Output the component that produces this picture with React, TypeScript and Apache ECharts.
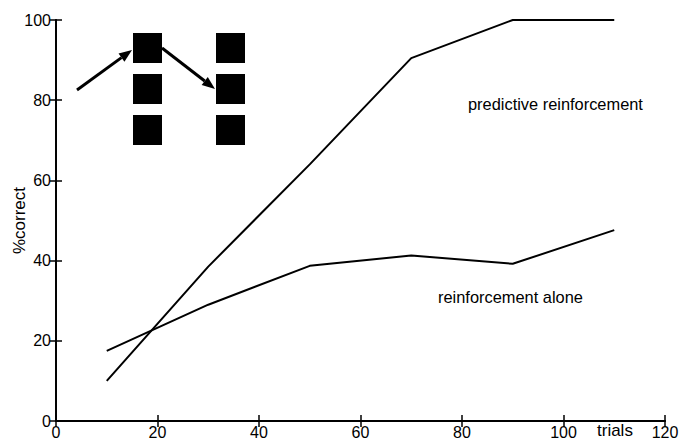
import React, { useEffect, useRef } from "react";
import * as echarts from "echarts";

const trials = [10, 30, 50, 70, 90, 110];
const predictive = [10, 38.5, 64, 90.5, 100, 100];
const reinforcementAlone = [17.5, 29, 38.7, 41.3, 39.2, 47.6];
const xTicks = [0, 20, 40, 60, 80, 100, 120];
const yTicks = [0, 20, 40, 60, 80, 100];

const FONT = "'Liberation Sans', Arial, Helvetica, sans-serif";

export default function App() {
  const ref = useRef<HTMLDivElement>(null);
  useEffect(() => {
    if (!ref.current) return;
    const chart = echarts.init(ref.current, undefined, { renderer: "svg" });
    const axisLine = { show: true, lineStyle: { color: "#000", width: 1.8 } };
    const tick = { show: true, inside: true, length: 6, lineStyle: { color: "#000", width: 1.5 } };
    const sq = (x: number, y: number) => ({
      type: "rect",
      shape: { x, y, width: 29, height: 30 },
      style: { fill: "#000" },
    });
    const arrow = (x1: number, y1: number, x2: number, y2: number) => {
      const ang = Math.atan2(y2 - y1, x2 - x1);
      const L = 13, W = 5;
      const bx = x2 - L * Math.cos(ang), by = y2 - L * Math.sin(ang);
      const px = -Math.sin(ang) * W, py = Math.cos(ang) * W;
      return [
        { type: "line", shape: { x1, y1, x2: bx, y2: by }, style: { stroke: "#000", lineWidth: 3 } },
        {
          type: "polygon",
          shape: { points: [[x2, y2], [bx + px, by + py], [bx - px, by - py]] },
          style: { fill: "#000" },
        },
      ];
    };
    chart.setOption({
      animation: false,
      backgroundColor: "#fff",
      grid: { left: 56, right: 31, top: 20, bottom: 20, containLabel: false, outerBoundsMode: "none" },
      xAxis: [
        {
          type: "value", min: 0, max: 120, interval: 20, position: "bottom",
          axisLine, axisTick: tick, splitLine: { show: false },
          axisLabel: {
            color: "#000", fontFamily: FONT, fontSize: 16, margin: 3,
            formatter: (v: number) => (xTicks.includes(v) ? String(v) : ""),
          },
        },
        {
          type: "value", min: 0, max: 120, interval: 20, position: "top",
          axisLine, axisTick: tick, splitLine: { show: false }, axisLabel: { show: false },
        },
      ],
      yAxis: [
        {
          type: "value", min: 0, max: 100, interval: 20, position: "left",
          axisLine, axisTick: tick, splitLine: { show: false },
          name: "%correct", nameLocation: "middle", nameGap: 28, nameMoveOverlap: false,
          nameTextStyle: { color: "#000", fontFamily: FONT, fontSize: 17 },
          axisLabel: {
            color: "#000", fontFamily: FONT, fontSize: 16, margin: 5,
            formatter: (v: number) => (yTicks.includes(v) ? String(v) : ""),
          },
        },
        {
          type: "value", min: 0, max: 100, interval: 20, position: "right",
          axisLine, axisTick: tick, splitLine: { show: false }, axisLabel: { show: false },
        },
      ],
      series: [
        {
          name: "predictive reinforcement",
          type: "line",
          data: trials.map((t, i) => [t, predictive[i]]),
          showSymbol: false,
          lineStyle: { color: "#000", width: 2 },
        },
        {
          name: "reinforcement alone",
          type: "line",
          data: trials.map((t, i) => [t, reinforcementAlone[i]]),
          showSymbol: false,
          lineStyle: { color: "#000", width: 2 },
        },
      ],
      graphic: [
        sq(133, 33), sq(133, 74), sq(133, 115),
        sq(216, 33), sq(216, 74), sq(216, 115),
        ...arrow(77, 90, 132, 50),
        ...arrow(162, 48, 215, 89),
        {
          type: "text", left: 468, top: 96,
          style: { text: "predictive reinforcement", fill: "#000", font: `16.4px ${FONT}` },
        },
        {
          type: "text", left: 438, top: 289,
          style: { text: "reinforcement alone", fill: "#000", font: `16.4px ${FONT}` },
        },
        {
          type: "text", left: 597, top: 422,
          style: { text: "trials", fill: "#000", font: `17px ${FONT}` },
        },
      ],
    });
    return () => chart.dispose();
  }, []);
  return <div ref={ref} style={{ width: 696, height: 441, position: "absolute", left: 0, top: 0 }} />;
}
